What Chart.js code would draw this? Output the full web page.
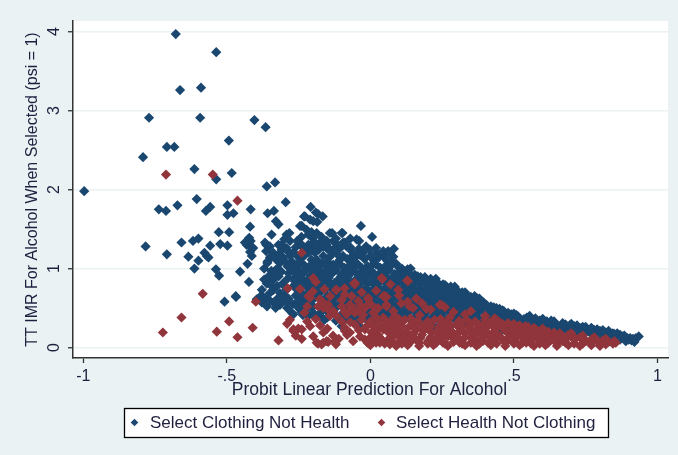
<!DOCTYPE html>
<html>
<head>
<meta charset="utf-8">
<script src="https://cdn.jsdelivr.net/npm/chart.js@4.4.1/dist/chart.umd.min.js"></script>
<style>
  html, body { margin: 0; padding: 0; background: #eaf2f3; }
  #wrap { width: 678px; height: 455px; position: relative; }
</style>
</head>
<body>
<div id="wrap"><canvas id="chart"></canvas></div>
<script>
// tick values and labels
const xTicks = [-1, -0.5, 0, 0.5, 1];
const xTickLabels = ['-1', '-.5', '0', '.5', '1'];
const yTicks = [0, 1, 2, 3, 4];
const yTickLabels = ['0', '1', '2', '3', '4'];

const seriesNames = ['Select Clothing Not Health', 'Select Health Not Clothing'];
const xTitle = 'Probit Linear Prediction For Alcohol';
const yTitle = 'TT IMR For Alcohol When Selected (psi = 1)';

// [probit prediction, TT IMR]
const clothingPts = [
  [-0.678,3.97],[-0.537,3.74],[-0.663,3.26],[-0.59,3.29],[-0.771,2.91],[-0.593,2.91],[-0.404,2.88],[-0.365,2.79],
  [-0.493,2.62],[-0.709,2.54],[-0.683,2.54],[-0.792,2.41],[-0.613,2.26],[-0.483,2.21],[-0.537,2.13],[-0.361,2.04],
  [-0.332,2.09],[-0.997,1.98],[-0.605,1.88],[-0.295,1.84],[-0.737,1.75],[-0.712,1.73],[-0.672,1.80],[-0.573,1.73],
  [-0.558,1.78],[-0.498,1.80],[-0.498,1.68],[-0.477,1.70],[-0.417,1.75],[-0.358,1.70],[-0.336,1.73],[-0.329,1.60],
  [-0.32,1.56],[-0.419,1.53],[-0.231,1.66],[-0.208,1.78],[-0.19,1.71],[-0.166,1.66],[-0.245,1.54],[-0.199,1.60],
  [-0.182,1.69],[-0.21,1.62],[-0.185,1.59],[-0.228,1.66],
  [-0.528,1.46],[-0.492,1.46],[-0.783,1.28],[-0.709,1.18],[-0.658,1.33],[-0.618,1.35],[-0.599,1.38],[-0.558,1.29],
  [-0.523,1.31],[-0.498,1.29],[-0.634,1.15],[-0.599,1.10],[-0.578,1.20],[-0.570,1.16],[-0.564,1.14],[-0.613,1.00],
  [-0.538,0.99],[-0.527,0.91],[-0.454,0.96],[-0.428,1.06],[-0.431,1.30],[-0.413,1.27],[-0.419,1.21],[-0.413,1.16],
  [-0.363,1.30],[-0.358,1.09],[-0.423,0.83],[-0.361,0.81],[-0.378,0.73],[-0.373,0.62],[-0.355,0.57],[-0.508,0.58],
  [-0.469,0.65],[-0.422,1.39],[-0.437,1.33],[-0.417,1.35],[-0.408,1.26],[-0.468,0.64],
  [-0.222,1.49],[-0.187,1.45],[-0.216,1.43],[-0.239,1.54],[-0.205,1.46],[-0.292,1.43],[-0.344,1.43],[-0.282,1.45],
  [-0.133,1.45],[-0.097,1.45],[-0.141,1.45],[-0.1,1.45],[-0.033,1.54],[0.006,1.40],[-0.039,1.35],[-0.048,1.37],
  [0.062,1.22],[0.082,1.25],[0.074,1.10],[0.14,1.00],
  [-0.367,1.33],[-0.35,1.28],[-0.363,1.22],[-0.35,1.14],[-0.359,1.07],[-0.32,1.30],[-0.309,1.24],[-0.292,1.26],
  [-0.303,1.14],[-0.315,1.07],[-0.289,1.03],[-0.274,1.09],[-0.257,1.03],[-0.251,0.99],[-0.338,1.20],[-0.309,1.30],
  [-0.288,1.22],[-0.28,1.16],[-0.292,1.07],[-0.268,1.05],[-0.222,0.99],[-0.199,0.97],[-0.205,1.11],[-0.193,1.07],
  [-0.338,0.86],[-0.32,0.90],[-0.303,0.82],[-0.338,0.73],[-0.315,0.69],[-0.292,0.73],[-0.268,0.78],[-0.251,0.82],
  [-0.396,0.61],[-0.378,0.57],[-0.355,0.61],[-0.338,0.57],[-0.315,0.54],[-0.292,0.57],[-0.268,0.42],[-0.245,0.48],
  [-0.216,0.40],[-0.199,0.44],[-0.176,0.40],[-0.367,0.63],[-0.35,0.69],[-0.326,0.61],[-0.297,0.65],[-0.286,0.88],
  [-0.263,0.84],[-0.239,0.92],[-0.274,0.44],[-0.199,0.52],[-0.182,0.40],
  [-0.37,1.0],[-0.345,0.97],[-0.325,1.0],[-0.33,0.93],[-0.355,0.9],[-0.31,0.96],[-0.37,0.86],[-0.35,0.8],
  [-0.325,0.78],[-0.3,0.78],[-0.285,0.94],[-0.27,0.98],[-0.38,0.66],[-0.36,0.52],[-0.33,0.5],[-0.31,0.62],
  [-0.285,0.62],[-0.27,0.55],[-0.25,0.62],[-0.33,1.12],[-0.32,1.18],[-0.27,1.2],[-0.26,1.27],[-0.3,1.37],
  [-0.28,1.35],[-0.255,1.35],[-0.24,1.4],[-0.2,1.38],[-0.17,1.4],[-0.12,1.38],[-0.07,1.38],[-0.15,1.25],
  [-0.18,1.24],[-0.2,1.25],[-0.29,0.5],[-0.25,0.55],
  [-0.239,1.30],[-0.21,1.29],[-0.199,1.33],[-0.182,1.30],[-0.17,1.35],[-0.152,1.30],[-0.129,1.35],[-0.118,1.28],
  [-0.095,1.33],[-0.152,1.35],[-0.164,1.28],[-0.187,1.30],[-0.216,1.30],[-0.239,1.28],[-0.123,1.33],[-0.089,1.33],
  [-0.083,1.28],[-0.193,1.20],[-0.187,1.11],[-0.164,1.16],[-0.141,1.15],[-0.106,1.11],[-0.129,1.05],[-0.065,1.22],
  [-0.048,1.16],[-0.025,1.20],[-0.002,1.24],[0.022,1.20],[0.045,1.22],[0.062,1.20],
  [-0.225,1.25],[-0.14,1.24],[-0.105,1.26],[-0.07,1.27],[-0.04,1.25],[-0.015,1.28],[0.02,1.26],
  [-0.26,1.18],[-0.215,1.2],[-0.13,1.2],[-0.095,1.16],[-0.065,1.15],[-0.035,1.17],[0.0,1.16],[0.045,1.16],[0.08,1.15],
  [-0.245,1.12],[-0.228,1.17],[-0.15,1.09],[-0.115,1.18],[-0.08,1.12],[-0.06,1.08],[-0.02,1.12],[0.012,1.10],
  [0.03,1.14],[0.058,1.10],
  [-0.235,1.06],[-0.2,1.04],[-0.17,1.06],[-0.14,1.02],[-0.105,1.05],[-0.075,1.03],[-0.045,1.06],[-0.01,1.03],
  [0.02,1.05],[0.05,1.02],[0.09,1.06],[0.11,1.0],
  [-0.25,1.07],[-0.215,1.02],[-0.185,1.03],[-0.155,1.03],[-0.12,1.05],[-0.09,1.01],[-0.06,1.04],[-0.03,1.01],
  [0.005,1.04],[0.035,1.01],[0.07,1.03],[0.1,1.01],[0.13,0.99],
  [-0.23,0.97],[-0.18,0.99],[-0.155,0.96],[-0.12,0.98],[-0.09,0.96],[-0.06,0.99],[-0.03,0.96],[0.0,0.98],
  [0.035,0.95],[0.065,0.98],[0.1,0.95],[0.125,0.97],[0.155,0.92],
  [-0.26,0.95],[-0.195,0.94],[-0.165,0.93],[-0.13,0.95],[-0.1,0.93],[-0.07,0.95],[-0.045,0.93],[-0.015,0.95],
  [0.015,0.93],[0.05,0.95],[0.085,0.93],[0.135,0.94],[0.165,0.9],[0.19,0.89],
  [-0.245,0.90],[-0.21,0.91],[-0.175,0.89],[-0.14,0.92],[-0.105,0.89],[-0.075,0.91],[-0.04,0.89],[-0.01,0.91],
  [0.02,0.88],[0.05,0.91],[0.08,0.89],[0.115,0.91],[0.145,0.88],[0.175,0.89],
  [-0.265,0.88],[-0.215,0.87],[-0.18,0.86],[-0.145,0.88],[-0.11,0.86],[-0.08,0.88],[-0.05,0.86],[-0.02,0.88],
  [0.01,0.86],[0.04,0.88],[0.065,0.86],[0.095,0.88],[0.125,0.86],[0.155,0.87],[0.185,0.85],[0.21,0.87],
  [-0.23,0.84],[-0.195,0.83],[-0.16,0.85],[-0.125,0.82],[-0.09,0.84],[-0.06,0.82],[-0.025,0.85],[0.005,0.82],
  [0.035,0.84],[0.07,0.82],[0.1,0.85],[0.13,0.82],[0.16,0.84],[0.19,0.82],[0.215,0.84],[0.24,0.80],
  [-0.24,0.80],[-0.21,0.81],[-0.175,0.79],[-0.14,0.81],[-0.105,0.79],[-0.07,0.81],[-0.04,0.79],[-0.01,0.81],
  [0.02,0.8],[0.055,0.81],[0.085,0.79],[0.115,0.81],[0.145,0.8],[0.175,0.81],[0.205,0.8],[0.23,0.82],[0.26,0.79],[0.28,0.77],
  [-0.22,0.76],[-0.185,0.78],[-0.15,0.76],[-0.115,0.78],[-0.08,0.75],[-0.045,0.77],[-0.015,0.75],[0.02,0.78],
  [0.05,0.75],[0.085,0.77],[0.115,0.75],[0.145,0.78],[0.175,0.75],[0.205,0.77],[0.235,0.75],[0.265,0.77],[0.29,0.74],
  [-0.255,0.73],[-0.2,0.73],[-0.165,0.74],[-0.13,0.72],[-0.095,0.74],[-0.06,0.72],[-0.03,0.74],[0.005,0.72],
  [0.035,0.74],[0.07,0.72],[0.1,0.74],[0.13,0.72],[0.16,0.74],[0.19,0.72],[0.22,0.74],[0.25,0.72],[0.275,0.74],
  [0.3,0.72],[0.32,0.70],
  [-0.24,0.70],[-0.205,0.69],[-0.17,0.71],[-0.135,0.68],[-0.1,0.70],[-0.065,0.69],[-0.03,0.71],[0.0,0.68],
  [0.035,0.70],[0.065,0.68],[0.1,0.71],[0.13,0.68],[0.16,0.70],[0.19,0.68],[0.22,0.71],[0.25,0.68],[0.28,0.70],
  [0.31,0.68],[0.335,0.66],
  [-0.26,0.66],[-0.225,0.66],[-0.185,0.67],[-0.15,0.65],[-0.115,0.67],[-0.08,0.65],[-0.045,0.67],[-0.01,0.65],
  [0.02,0.67],[0.05,0.65],[0.085,0.66],[0.115,0.65],[0.145,0.67],[0.175,0.65],[0.205,0.66],[0.235,0.65],[0.265,0.66],
  [0.295,0.65],[0.325,0.66],[0.35,0.64],[0.37,0.63],
  [-0.225,0.62],[-0.19,0.64],[-0.155,0.62],[-0.12,0.64],[-0.085,0.61],[-0.05,0.63],[-0.015,0.61],[0.015,0.63],
  [0.05,0.61],[0.08,0.63],[0.115,0.61],[0.145,0.63],[0.175,0.61],[0.205,0.63],[0.235,0.61],[0.265,0.63],[0.295,0.61],
  [0.325,0.63],[0.355,0.61],[0.375,0.60],
  [-0.25,0.59],[-0.205,0.59],[-0.17,0.6],[-0.135,0.59],[-0.1,0.6],[-0.065,0.58],[-0.03,0.6],[0.0,0.59],
  [0.035,0.58],[0.065,0.6],[0.1,0.58],[0.13,0.6],[0.16,0.58],[0.19,0.6],[0.22,0.58],[0.25,0.6],[0.28,0.58],
  [0.31,0.6],[0.34,0.58],[0.37,0.59],[0.395,0.57],
  [-0.235,0.56],[-0.17,0.55],[-0.135,0.57],[-0.1,0.55],[-0.065,0.56],[-0.03,0.54],[0.0,0.56],[0.03,0.55],
  [0.065,0.57],[0.095,0.54],[0.13,0.56],[0.16,0.54],[0.19,0.57],[0.22,0.55],[0.25,0.57],[0.28,0.54],[0.31,0.56],
  [0.34,0.54],[0.37,0.56],[0.395,0.53],[0.42,0.52],
  [-0.255,0.52],[-0.2,0.52],[-0.15,0.52],[-0.115,0.53],[-0.08,0.51],[-0.045,0.53],[-0.01,0.51],[0.02,0.53],
  [0.05,0.51],[0.08,0.53],[0.11,0.51],[0.145,0.53],[0.175,0.51],[0.205,0.53],[0.235,0.51],[0.265,0.53],[0.295,0.51],
  [0.325,0.53],[0.355,0.51],[0.385,0.52],[0.41,0.5],[0.43,0.51],[0.45,0.49],
  [-0.22,0.49],[-0.155,0.48],[-0.12,0.50],[-0.085,0.48],[-0.05,0.49],[-0.015,0.47],[0.02,0.49],[0.05,0.47],
  [0.08,0.49],[0.11,0.47],[0.145,0.49],[0.175,0.47],[0.205,0.49],[0.235,0.47],[0.265,0.49],[0.295,0.47],[0.325,0.49],
  [0.355,0.47],[0.385,0.49],[0.41,0.47],[0.44,0.48],[0.465,0.46],
  [-0.24,0.45],[-0.17,0.45],[-0.13,0.46],[-0.095,0.44],[-0.06,0.46],[-0.025,0.44],[0.005,0.46],[0.04,0.44],
  [0.07,0.46],[0.1,0.44],[0.13,0.46],[0.16,0.44],[0.19,0.46],[0.22,0.44],[0.25,0.46],[0.28,0.44],[0.31,0.46],
  [0.34,0.44],[0.37,0.46],[0.4,0.44],[0.425,0.45],[0.45,0.44],[0.48,0.44],[0.5,0.43],
  [-0.235,0.41],[-0.14,0.42],[-0.1,0.40],[-0.07,0.42],[-0.035,0.40],[0.0,0.42],[0.03,0.40],[0.065,0.42],
  [0.095,0.40],[0.13,0.42],[0.16,0.40],[0.19,0.42],[0.22,0.40],[0.25,0.42],[0.28,0.40],[0.31,0.42],[0.34,0.40],
  [0.37,0.42],[0.4,0.40],[0.43,0.42],[0.46,0.40],[0.49,0.41],[0.515,0.39],
  [-0.19,0.38],[-0.15,0.38],[-0.11,0.37],[-0.07,0.38],[-0.03,0.37],[0.0,0.38],[0.035,0.37],[0.065,0.38],
  [0.1,0.37],[0.13,0.38],[0.16,0.37],[0.19,0.38],[0.22,0.37],[0.25,0.38],[0.28,0.37],[0.31,0.38],[0.34,0.37],
  [0.37,0.38],[0.4,0.37],[0.43,0.38],[0.46,0.37],[0.49,0.38],[0.52,0.37],[0.545,0.38],[0.575,0.37],[0.6,0.36],[0.63,0.34],
  [-0.16,0.35],[-0.12,0.34],[-0.085,0.36],[-0.05,0.34],[-0.015,0.36],[0.015,0.34],[0.05,0.36],[0.08,0.34],
  [0.115,0.36],[0.145,0.34],[0.175,0.36],[0.205,0.34],[0.235,0.36],[0.265,0.34],[0.295,0.36],[0.325,0.34],[0.355,0.36],
  [0.385,0.34],[0.415,0.36],[0.445,0.34],[0.475,0.36],[0.505,0.34],[0.535,0.36],[0.56,0.35],[0.59,0.34],[0.615,0.33],
  [0.46,0.32],[0.49,0.31],[0.52,0.32],[0.55,0.32],[0.58,0.31],[0.61,0.32],[0.64,0.30],[0.67,0.31],[0.695,0.28],
  [0.72,0.28],[0.75,0.26],[0.77,0.25],[0.79,0.23],[0.8,0.21],
  [-0.04,0.28],[0.03,0.27],[0.1,0.28],[0.16,0.27],[0.22,0.28],[0.28,0.27],[0.34,0.28],[0.4,0.27],[0.44,0.29],
  [0.47,0.28],[0.5,0.29],[0.53,0.28],[0.56,0.30],[0.59,0.28],[0.62,0.30],[0.65,0.28],[0.68,0.29],[0.71,0.27],[0.735,0.25],
  [0.48,0.26],[0.52,0.25],[0.55,0.26],[0.6,0.25],[0.63,0.26],[0.66,0.25],[0.69,0.26],[0.72,0.24],[0.75,0.23],
  [0.78,0.22],[0.81,0.20],[0.83,0.21],[0.86,0.18],[0.87,0.16],
  [0.46,0.22],[0.5,0.23],[0.54,0.22],[0.58,0.24],[0.61,0.22],[0.64,0.24],[0.67,0.22],[0.7,0.23],[0.73,0.21],
  [0.76,0.22],[0.79,0.20],[0.82,0.19],[0.845,0.18],
  [0.62,0.20],[0.66,0.19],[0.69,0.20],[0.72,0.18],[0.75,0.19],[0.78,0.18],[0.8,0.19],[0.82,0.17],[0.84,0.15],
  [0.87,0.13],[0.895,0.12],[0.9,0.10],[0.915,0.11],[0.925,0.12],
  [0.6,0.17],[0.65,0.16],[0.7,0.17],[0.74,0.16],[0.77,0.17],[0.8,0.15],[0.83,0.16],[0.86,0.15],[0.88,0.14],
  [0.905,0.12],[0.935,0.14],
  [0.78,0.10],[0.82,0.11],[0.85,0.09],[0.87,0.10],[0.89,0.08],[0.91,0.09],[0.92,0.07],
  [0.555,0.40],[0.601,0.36],[0.671,0.29],[0.74,0.26],[0.85,0.17],[0.885,0.15],[0.64,0.33],[0.70,0.30],[0.77,0.24],[0.81,0.22],
  [0.195,0.86],[0.228,0.87],[0.253,0.80],[0.294,0.77],[0.306,0.71],[0.363,0.65],[0.404,0.54],[0.439,0.50],
  [0.491,0.42],[0.509,0.41],[0.33,0.70],[0.38,0.62],[0.46,0.47],
  [0.1,0.20],[0.25,0.15],[0.05,0.25],[-0.1,0.27],[0.6,0.10]
];

const healthPts = [
  [-0.712,2.19],[-0.549,2.19],[-0.463,1.86],[-0.584,0.68],[-0.399,0.58],[-0.658,0.38],[-0.492,0.33],[-0.41,0.25],
  [-0.723,0.19],[-0.535,0.20],[-0.463,0.13],[-0.32,0.09],[-0.28,0.35],[-0.288,0.75],[-0.239,1.20],[-0.268,0.23],
  [-0.251,0.24],[-0.239,0.11],[-0.22,0.33],[-0.199,0.14],[-0.182,0.05],[-0.164,0.06],[-0.147,0.07],[-0.164,0.19],
  [-0.12,0.04],[-0.123,0.08],[-0.22,0.52],[-0.216,0.65],[-0.245,0.74],[-0.199,0.88],[-0.19,0.83],[-0.164,0.50],
  [-0.147,0.54],[-0.129,0.46],[-0.176,0.61],[-0.118,0.73],[-0.118,0.40],[-0.1,0.33],[-0.083,0.42],[-0.089,0.21],
  [-0.081,0.16],[-0.057,0.81],[-0.071,0.54],[-0.06,0.49],[-0.042,0.46],[-0.031,0.35],[-0.013,0.27],[0.004,0.19],
  [-0.008,0.63],[0.016,0.50],[0.039,0.88],[0.045,0.65],[-0.019,0.10],[0.016,0.14],[0.033,0.06],
  [-0.268,0.21],[-0.239,0.23],[-0.21,0.63],[-0.182,0.52],[-0.164,0.57],[-0.147,0.48],[-0.141,0.40],[-0.187,0.06],
  [-0.152,0.08],[-0.17,0.04],[-0.089,0.67],[-0.065,0.65],[-0.054,0.80],[-0.042,0.59],
  [-0.1,0.52],[-0.071,0.48],[-0.054,0.44],[-0.036,0.54],[-0.019,0.50],[-0.002,0.56],[0.01,0.44],[0.027,0.50],
  [0.045,0.38],[0.05,0.65],[0.056,0.54],
  [-0.089,0.25],[-0.071,0.19],[-0.054,0.29],[-0.036,0.14],[-0.019,0.23],[-0.002,0.12],[0.01,0.27],[0.027,0.16],
  [0.045,0.23],[0.062,0.10],
  [-0.29,0.3],[-0.26,0.15],[-0.23,0.44],[-0.21,0.27],[-0.19,0.36],[-0.175,0.28],[-0.15,0.24],[-0.13,0.15],
  [-0.11,0.11],[-0.1,0.6],[-0.09,0.45],[-0.07,0.32],[-0.06,0.08],[-0.04,0.22],[-0.025,0.41],[-0.01,0.06],
  [-0.2,0.71],[-0.14,0.65],[-0.16,0.74],[-0.09,0.75],[-0.03,0.7],[0.02,0.72],[0.07,0.8],[0.1,0.66],
  [0.16,0.62],[0.18,0.56],[0.21,0.48],[0.26,0.51],[0.29,0.45],[0.33,0.42],[0.35,0.46],[0.4,0.4],[0.13,0.58],[0.08,0.46],
  [0.042,0.87],[0.131,0.84],[0.097,0.73],[0.05,0.64],[0.108,0.56],[0.149,0.50],[0.172,0.41],[0.195,0.49],
  [0.248,0.54],[0.277,0.38],[0.335,0.35],[0.3,0.29],[0.224,0.35],[0.439,0.35],[0.01,0.12],[0.045,0.08],
  [0.08,0.16],[0.068,0.04],[0.103,0.06],[0.022,0.48],[0.05,0.35],[0.085,0.40],[0.12,0.35],[0.137,0.27],
  [0.161,0.23],[0.19,0.29],[0.213,0.19],[0.201,0.08],[0.236,0.14],[0.253,0.06],[0.271,0.23],[0.288,0.12],
  [0.311,0.06],[0.329,0.19],[0.352,0.12],[0.369,0.23],[0.392,0.08],[0.41,0.16],[0.433,0.25],[0.456,0.12],
  [0.479,0.19],[0.503,0.08],[0.526,0.14],[0.543,0.06],[0.509,0.23],
  [-0.054,0.82],[-0.12,0.73],[0.056,0.64],[-0.007,0.61],[0.242,0.54],[0.137,0.52],[0.056,0.52],[0.433,0.37],[0.128,0.85],
  [0.09,0.30],[0.15,0.32],[0.25,0.31],[0.35,0.30],[0.4,0.31],[0.46,0.30],[0.06,0.28],
  [0.0,0.33],[0.02,0.38],[0.07,0.33],[0.1,0.36],[0.14,0.37],[0.165,0.34],[0.2,0.33],[0.245,0.36],[0.27,0.33],
  [0.31,0.34],[0.365,0.33],[0.4,0.35],[0.42,0.32],[0.45,0.32],[0.48,0.31],
  [0.5,0.30],[0.52,0.28],[0.55,0.26],[0.58,0.22],[0.6,0.24],[0.62,0.20],[0.66,0.18],[0.7,0.18],[0.74,0.15],
  [0.78,0.13],[0.82,0.11],[0.85,0.08],
  [0.03,0.3],[0.07,0.26],[0.11,0.27],[0.15,0.26],[0.17,0.28],[0.21,0.27],[0.26,0.24],[0.28,0.28],[0.32,0.27],
  [0.345,0.26],[0.38,0.28],[0.41,0.27],[0.44,0.26],[0.47,0.27],[0.5,0.26],[0.54,0.27],[0.57,0.25],
  [0.2,0.24],[0.24,0.26],[0.31,0.25],[0.39,0.24],[0.46,0.25],[0.53,0.24],[0.56,0.22],[0.6,0.21],[0.64,0.19],
  [0.02,0.21],[0.06,0.2],[0.09,0.22],[0.125,0.2],[0.15,0.18],[0.185,0.21],[0.23,0.2],[0.25,0.22],[0.285,0.2],
  [0.315,0.21],[0.345,0.2],[0.38,0.19],[0.4,0.21],[0.43,0.2],[0.47,0.21],[0.49,0.2],[0.52,0.19],[0.54,0.2],
  [0.57,0.2],[0.6,0.18],[0.63,0.16],[0.67,0.13],[0.69,0.16],
  [0.11,0.19],[0.18,0.16],[0.26,0.17],[0.3,0.16],[0.36,0.17],[0.44,0.18],[0.5,0.16],[0.55,0.18],[0.58,0.16],
  [0.62,0.17],[0.66,0.15],[0.7,0.14],[0.73,0.13],
  [0.03,0.14],[0.07,0.12],[0.1,0.13],[0.14,0.14],[0.175,0.12],[0.21,0.13],[0.245,0.11],[0.27,0.14],[0.3,0.12],
  [0.33,0.13],[0.36,0.14],[0.39,0.12],[0.42,0.13],[0.45,0.14],[0.48,0.12],[0.51,0.13],[0.54,0.11],[0.57,0.13],
  [0.6,0.12],[0.63,0.13],[0.655,0.11],[0.685,0.12],[0.715,0.11],[0.745,0.11],[0.77,0.1],[0.81,0.09],
  [0.12,0.11],[0.16,0.10],[0.23,0.09],[0.31,0.10],[0.37,0.09],[0.43,0.10],[0.48,0.09],[0.56,0.10],[0.59,0.08],
  [0.63,0.10],[0.67,0.08],[0.71,0.10],[0.75,0.08],[0.79,0.09],[0.83,0.07],[0.855,0.06],
  [0.02,0.06],[0.05,0.05],[0.08,0.07],[0.11,0.05],[0.14,0.07],[0.17,0.06],[0.2,0.05],[0.23,0.06],[0.26,0.05],
  [0.29,0.07],[0.32,0.05],[0.35,0.06],[0.38,0.05],[0.41,0.06],[0.44,0.05],[0.47,0.06],[0.5,0.05],[0.53,0.06],
  [0.56,0.05],[0.59,0.05],[0.62,0.06],[0.65,0.05],[0.68,0.06],[0.71,0.05],[0.74,0.05],[0.77,0.06],[0.8,0.05],
  [0.82,0.04],[0.845,0.05],
  [0.0,0.03],[0.09,0.02],[0.13,0.03],[0.17,0.02],[0.22,0.03],[0.27,0.02],[0.33,0.03],[0.37,0.02],[0.42,0.03],
  [0.47,0.02],[0.52,0.03],[0.57,0.02],[0.61,0.03],[0.65,0.02],[0.69,0.03],[0.73,0.02],[0.77,0.03],[0.8,0.02]
];

const colors = { clothing: '#1a476f', health: '#90353b' };
const FONT = '"Liberation Sans", Arial, sans-serif';
const INK = '#1f1f3f';

function diamond(ctx, x, y, r) {
    ctx.beginPath();
    ctx.moveTo(x, y - r);
    ctx.lineTo(x + r, y);
    ctx.lineTo(x, y + r);
    ctx.lineTo(x - r, y);
    ctx.closePath();
    ctx.fill();
}

// white plot region behind the points
const plotRegion = {
    id: 'plotRegion',
    beforeDraw(chart) {
        const { ctx, chartArea: a } = chart;
        ctx.save();
        ctx.fillStyle = '#eaf2f3';
        ctx.fillRect(0, 0, chart.width, chart.height);
        ctx.fillStyle = '#ffffff';
        ctx.fillRect(a.left, a.top, a.right - a.left, a.bottom - a.top);
        ctx.restore();
    }
};

// Stata-like labels, titles and boxed legend
const stataText = {
    id: 'stataText',
    afterDraw(chart) {
        const { ctx, chartArea: a } = chart;
        const xs = chart.scales.x, ys = chart.scales.y;
        ctx.save();
        ctx.fillStyle = INK;

        // y tick labels, rotated
        ctx.font = '16px ' + FONT;
        ctx.textAlign = 'center';
        ctx.textBaseline = 'middle';
        yTicks.forEach((v, i) => {
            ctx.save();
            ctx.translate(55, ys.getPixelForValue(v));
            ctx.rotate(-Math.PI / 2);
            ctx.fillText(yTickLabels[i], 0, 0);
            ctx.restore();
        });

        // x tick labels
        xTicks.forEach((v, i) => {
            ctx.fillText(xTickLabels[i], xs.getPixelForValue(v), 377);
        });

        // axis titles
        ctx.font = '17.5px ' + FONT;
        ctx.textBaseline = 'alphabetic';
        ctx.fillText(xTitle, (a.left + a.right) / 2 - 1, 395);

        ctx.save();
        ctx.font = '16px ' + FONT;
        ctx.translate(33, (a.top + a.bottom) / 2);
        ctx.rotate(-Math.PI / 2);
        ctx.textBaseline = 'middle';
        ctx.fillText(yTitle, 0, 0);
        ctx.restore();

        // legend box
        const bx = 124, by = 408, bw = 484, bh = 29;
        ctx.fillStyle = '#ffffff';
        ctx.fillRect(bx, by, bw, bh);
        ctx.strokeStyle = '#000000';
        ctx.lineWidth = 1.3;
        ctx.strokeRect(bx + 0.5, by + 0.5, bw, bh);

        const cy = by + bh / 2;
        const items = [
            { mx: 134.5, tx: 150, color: colors.clothing, label: seriesNames[0] },
            { mx: 381.5, tx: 396, color: colors.health, label: seriesNames[1] }
        ];
        ctx.font = '17px ' + FONT;
        ctx.textAlign = 'left';
        ctx.textBaseline = 'middle';
        items.forEach(it => {
            ctx.fillStyle = it.color;
            diamond(ctx, it.mx, cy, 3.8);
            ctx.fillStyle = INK;
            ctx.fillText(it.label, it.tx, cy + 1);
        });
        ctx.restore();
    }
};

const toXY = pts => pts.map(([x, y]) => ({ x, y }));

new Chart(document.getElementById('chart').getContext('2d'), {
    type: 'scatter',
    data: {
        datasets: [
            {
                label: seriesNames[0],
                data: toXY(clothingPts),
                backgroundColor: colors.clothing,
                order: 2
            },
            {
                label: seriesNames[1],
                data: toXY(healthPts),
                backgroundColor: colors.health,
                order: 1
            }
        ]
    },
    options: {
        responsive: true,
        maintainAspectRatio: false,
        animation: false,
        layout: { padding: { left: 0, top: 21, right: 10, bottom: 0 } },
        elements: {
            point: { pointStyle: 'rectRot', radius: 5.1, borderWidth: 0, hoverRadius: 5 }
        },
        scales: {
            x: {
                type: 'linear',
                min: -1.036,
                max: 1.037,
                afterBuildTicks: s => { s.ticks = xTicks.map(v => ({ value: v })); },
                afterFit: s => { s.height = 97; },
                ticks: { display: false },
                grid: { drawOnChartArea: false, tickLength: 5, tickColor: '#333', tickWidth: 1.3 },
                border: { display: true, color: '#333', width: 1.5 }
            },
            y: {
                type: 'linear',
                min: -0.133,
                max: 4.135,
                afterBuildTicks: s => { s.ticks = yTicks.map(v => ({ value: v })); },
                afterFit: s => { s.width = 73; },
                ticks: { display: false },
                grid: { color: '#eaf2f3', lineWidth: 1.5, tickLength: 5, tickColor: '#333', tickWidth: 1.3 },
                border: { display: true, color: '#333', width: 1.5 }
            }
        },
        plugins: {
            legend: { display: false },
            tooltip: { enabled: false }
        }
    },
    plugins: [plotRegion, stataText]
});
</script>
</body>
</html>
